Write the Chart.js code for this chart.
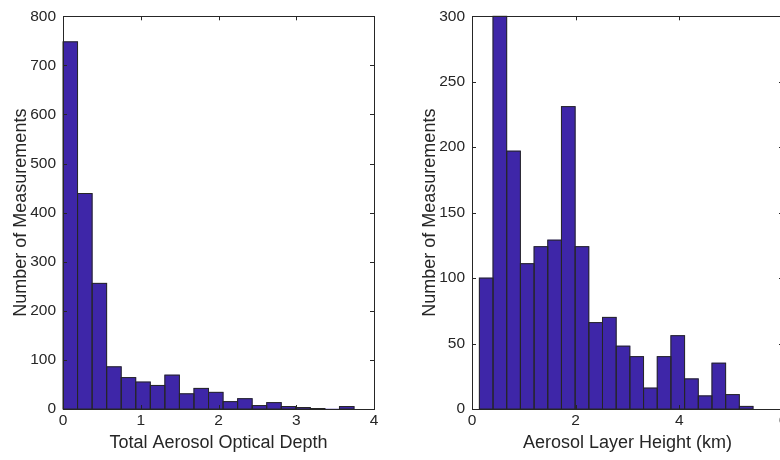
<!DOCTYPE html>
<html>
<head>
<meta charset="utf-8">
<script src="https://cdn.jsdelivr.net/npm/chart.js@4"></script>
<style>
    html, body { margin: 0; padding: 0; background: #fff; overflow: hidden; width: 780px; height: 460px; }
    canvas { position: absolute; top: 0; }
    #aodChart { left: 0; }
    #heightChart { left: 390px; }
</style>
</head>
<body>
<canvas id="aodChart" width="390" height="460"></canvas>
<canvas id="heightChart" width="410" height="460"></canvas>
<script>
// 光学厚度直方图：各 bin 中心与计数
const aodBinCenters = [0.0936, 0.2807, 0.4679, 0.6550, 0.8421, 1.0293, 1.2164, 1.4036, 1.5907, 1.7779,
                       1.9650, 2.1521, 2.3393, 2.5264, 2.7136, 2.9007, 3.0879, 3.2750, 3.4621, 3.6493];
const aodCounts = [748, 439, 256, 86, 64, 55, 48, 69, 31, 42, 34, 15, 21, 7, 13, 5, 3, 1, 0, 5];

// 气溶胶层高度直方图 (km)
const heightBinCenters = [0.2735, 0.5375, 0.8015, 1.0655, 1.3295, 1.5935, 1.8575, 2.1215, 2.3855, 2.6495,
                          2.9135, 3.1775, 3.4415, 3.7055, 3.9695, 4.2335, 4.4975, 4.7615, 5.0255, 5.2895];
const heightCounts = [100, 300, 197, 111, 124, 129, 231, 124, 66, 70, 48, 40, 16, 40, 56, 23, 10, 35, 11, 2];

// 坐标轴范围与标签
const aodXTicks = [0, 4, 1];
const aodYTicks = [0, 800, 100];
const heightXTicks = [0, 6, 2];
const heightYTicks = [0, 300, 50];
const aodXLabel = 'Total Aerosol Optical Depth';
const heightXLabel = 'Aerosol Layer Height (km)';
const yLabel = 'Number of Measurements';

const BAR_COLOR = '#3e26a8';
const AXIS_COLOR = '#262626';
const FONT = 'Helvetica, "Liberation Sans", Arial, sans-serif';

// 每根柱子描边（共用边只画一条线）
const barOutline = {
    id: 'barOutline',
    afterDatasetsDraw(chart) {
        const ctx = chart.ctx;
        const meta = chart.getDatasetMeta(0);
        const values = chart.data.datasets[0].data;
        ctx.save();
        ctx.strokeStyle = AXIS_COLOR;
        ctx.lineWidth = 1;
        meta.data.forEach((bar, i) => {
            if (!values[i].y) return;
            const { x, y, base, width } = bar.getProps(['x', 'y', 'base', 'width'], true);
            ctx.strokeRect(x - width / 2, y, width, base - y);
        });
        ctx.restore();
    }
};

// 外框 + 向内的刻度线
const axesBox = {
    id: 'axesBox',
    afterDraw(chart) {
        const { ctx, chartArea: a, scales } = chart;
        const len = 4;
        ctx.save();
        ctx.strokeStyle = AXIS_COLOR;
        ctx.lineWidth = 1;
        ctx.strokeRect(Math.round(a.left) + 0.5, Math.round(a.top) + 0.5,
                       Math.round(a.right - a.left), Math.round(a.bottom - a.top));
        ctx.beginPath();
        scales.x.ticks.forEach(t => {
            const px = Math.round(scales.x.getPixelForValue(t.value)) + 0.5;
            ctx.moveTo(px, a.bottom); ctx.lineTo(px, a.bottom - len);
            ctx.moveTo(px, a.top); ctx.lineTo(px, a.top + len);
        });
        scales.y.ticks.forEach(t => {
            const py = Math.round(scales.y.getPixelForValue(t.value)) + 0.5;
            ctx.moveTo(a.left, py); ctx.lineTo(a.left + len, py);
            ctx.moveTo(a.right, py); ctx.lineTo(a.right - len, py);
        });
        ctx.stroke();
        ctx.restore();
    }
};

function makeHistogram(canvasId, centers, counts, xTicks, yTicks, xLabel, yAxisWidth, rightPad) {
    const ctx = document.getElementById(canvasId).getContext('2d');
    return new Chart(ctx, {
        type: 'bar',
        data: {
            datasets: [{
                data: centers.map((c, i) => ({ x: c, y: counts[i] })),
                backgroundColor: BAR_COLOR,
                borderWidth: 0,
                barPercentage: 1,
                categoryPercentage: 1
            }]
        },
        options: {
            responsive: false,
            animation: false,
            devicePixelRatio: 1,
            layout: { padding: { top: 14, right: rightPad, left: 0, bottom: 0 } },
            plugins: {
                legend: { display: false },
                tooltip: { enabled: false }
            },
            scales: {
                x: {
                    type: 'linear',
                    offset: false,
                    min: xTicks[0],
                    max: xTicks[1],
                    grid: { display: false, drawTicks: false },
                    border: { display: false },
                    ticks: {
                        stepSize: xTicks[2],
                        padding: 2,
                        color: AXIS_COLOR,
                        font: { family: FONT, size: 15.5 },
                        maxRotation: 0
                    },
                    title: {
                        display: true,
                        text: xLabel,
                        color: AXIS_COLOR,
                        font: { family: FONT, size: 18 },
                        padding: { top: 0, bottom: 6 }
                    },
                    afterFit(scale) { scale.height = 51; }
                },
                y: {
                    min: yTicks[0],
                    max: yTicks[1],
                    grid: { display: false, drawTicks: false },
                    border: { display: false },
                    ticks: {
                        stepSize: yTicks[2],
                        padding: 7,
                        color: AXIS_COLOR,
                        font: { family: FONT, size: 15.5 }
                    },
                    title: {
                        display: true,
                        text: yLabel,
                        color: AXIS_COLOR,
                        font: { family: FONT, size: 18 },
                        padding: { top: yAxisWidth - 53, bottom: 0 }
                    },
                    afterFit(scale) { scale.width = yAxisWidth; }
                }
            }
        },
        plugins: [barOutline, axesBox]
    });
}

makeHistogram('aodChart', aodBinCenters, aodCounts, aodXTicks, aodYTicks, aodXLabel, 63, 16);
makeHistogram('heightChart', heightBinCenters, heightCounts, heightXTicks, heightYTicks, heightXLabel, 82, 17);
</script>
</body>
</html>
